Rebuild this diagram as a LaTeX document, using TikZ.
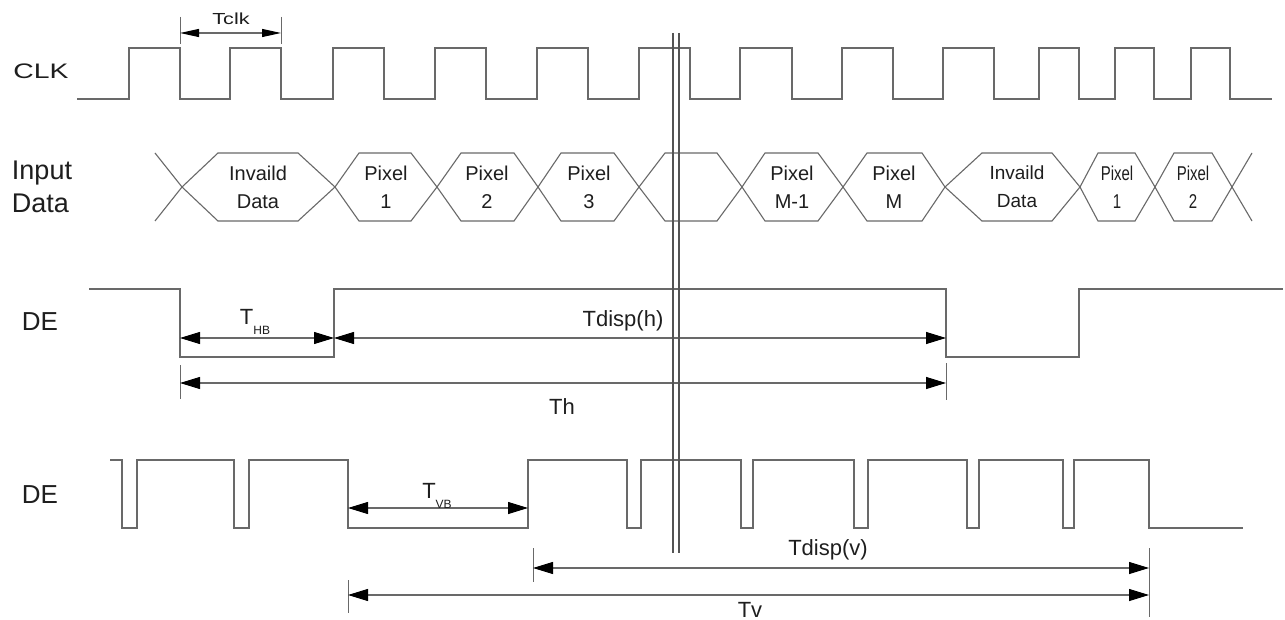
\documentclass[tikz,border=0pt]{standalone}
\usepackage{fontspec}
\setmainfont{Liberation Sans}
\newfontfamily\widefont{Liberation Sans}[FakeStretch=1.35]
\newfontfamily\narrowfont{Liberation Sans}[FakeStretch=0.75]
\usetikzlibrary{arrows.meta}
\definecolor{wavegray}{RGB}{105,105,105}
\definecolor{txtc}{RGB}{30,30,30}
\newcommand\hexa[4]{\draw[hexline] (#1,187) -- (#3,153) -- (#4,153) -- (#2,187) -- (#4,221) -- (#3,221) -- cycle;}
\newcommand\subtx[1]{\raisebox{-0.45em}{\fontsize{12}{12}\selectfont #1}}
\begin{document}
\begin{tikzpicture}[x=1pt,y=-1pt,
  wave/.style={draw=wavegray, line width=1.4pt, line join=miter},
  hexline/.style={draw=wavegray, line width=1.1pt, line join=miter},
  dline/.style={draw=wavegray!80!black, line width=1.3pt},
  tick/.style={draw=wavegray, line width=1pt},
  dim/.style={draw=wavegray, line width=1.1pt,
    {Triangle[length=20pt,width=12pt,color=black]}-{Triangle[length=20pt,width=12pt,color=black]}},
  dimc/.style={draw=wavegray, line width=1.1pt,
    {Triangle[length=19pt,width=8pt,color=black]}-{Triangle[length=19pt,width=8pt,color=black]}},
  lab/.style={font=\fontsize{26}{32}\selectfont, text=txtc, inner sep=0pt, align=left},
  hext/.style={font=\fontsize{20}{28}\selectfont, text=txtc, inner sep=0pt, align=center},
  dimt/.style={font=\fontsize{22}{24}\selectfont, text=txtc, inner sep=0pt}
]
\useasboundingbox[fill=white] (0,0) rectangle (1285,620);

% ---------- labels ----------
\node[lab, font=\widefont\fontsize{21}{24}\selectfont] (lclk) at (41,71) {CLK};
\node[lab, font=\fontsize{27}{33}\selectfont] (lin) at (42,187) {Input\\Data};
\node[lab] (lde1) at (40,322) {DE};
\node[lab] (lde2) at (40,495) {DE};

% ---------- CLK ----------
\draw[wave] (77,99) -- (129,99) -- (129,48) -- (180,48) -- (180,99)
  -- (230,99) -- (230,48) -- (281,48) -- (281,99)
  -- (333,99) -- (333,48) -- (384,48) -- (384,99)
  -- (435,99) -- (435,48) -- (486,48) -- (486,99)
  -- (537,99) -- (537,48) -- (588,48) -- (588,99)
  -- (639,99) -- (639,48) -- (690,48) -- (690,99)
  -- (740,99) -- (740,48) -- (792,48) -- (792,99)
  -- (842,99) -- (842,48) -- (893,48) -- (893,99)
  -- (943,99) -- (943,48) -- (994,48) -- (994,99)
  -- (1039,99) -- (1039,48) -- (1079,48) -- (1079,99)
  -- (1115,99) -- (1115,48) -- (1154,48) -- (1154,99)
  -- (1191,99) -- (1191,48) -- (1230,48) -- (1230,99) -- (1272,99);

% Tclk
\coordinate (tc1) at (180,33);
\coordinate (tc2) at (281,33);
\draw[tick] (180,17) -- (180,44);
\draw[tick] (281,17) -- (281,44);
\draw[dimc] (tc1) -- (tc2);
\node[dimt, font=\widefont\fontsize{16}{17}\selectfont] (ttclk) at (231,19) {Tclk};

% ---------- Input data ----------
\draw[hexline] (155,153) -- (182,187) -- (155,221);
\hexa{182}{335}{218}{298}
\hexa{335}{437}{359}{411}
\hexa{437}{538}{461}{514}
\hexa{538}{639}{561}{614}
\hexa{639}{742}{665}{717}
\hexa{742}{843}{765}{818}
\hexa{843}{945}{867}{922}
\hexa{945}{1080}{982}{1052}
\hexa{1080}{1155}{1098}{1135}
\hexa{1155}{1232}{1174}{1212}
\draw[hexline] (1252,153) -- (1232,187) -- (1252,221);

\node[hext] (h1) at (258,187) {Invaild\\Data};
\node[hext] (h2) at (386,187) {Pixel\\1};
\node[hext] (h3) at (487,187) {Pixel\\2};
\node[hext] (h4) at (589,187) {Pixel\\3};
\node[hext] (h6) at (792,187) {Pixel\\M-1};
\node[hext] (h7) at (894,187) {Pixel\\M};
\node[hext, font=\fontsize{19}{28}\selectfont] (h8) at (1017,187) {Invaild\\Data};
\node[hext, font=\narrowfont\fontsize{20}{28}\selectfont] (h9) at (1117,187) {Pixel\\1};
\node[hext, font=\narrowfont\fontsize{20}{28}\selectfont] (h10) at (1193,187) {Pixel\\2};

% ---------- DE (horizontal) ----------
\draw[wave] (89,289) -- (180,289) -- (180,357) -- (334,357) -- (334,289)
  -- (946,289) -- (946,357) -- (1079,357) -- (1079,289) -- (1283,289);
\coordinate (a1) at (180,338);
\coordinate (a2) at (334,338);
\coordinate (a3) at (946,338);
\coordinate (b1) at (180,383);
\coordinate (b2) at (946,383);
\draw[dim] (a1) -- (a2);
\draw[dim] (a2) -- (a3);
\draw[tick] (180,365) -- (180,399);
\draw[tick] (946,363) -- (946,400);
\draw[dim] (b1) -- (b2);
\node[dimt] (thb) at (255,322) {T\subtx{HB}};
\node[dimt] (tdh) at (623,321) {Tdisp(h)};
\node[dimt] (th) at (562,407) {Th};

% ---------- DE (vertical) ----------
\draw[wave] (110,460) -- (122,460) -- (122,528) -- (137,528) -- (137,460)
  -- (234,460) -- (234,528) -- (249,528) -- (249,460)
  -- (348,460) -- (348,528) -- (528,528) -- (528,460)
  -- (627,460) -- (627,528) -- (641,528) -- (641,460)
  -- (741,460) -- (741,528) -- (753,528) -- (753,460)
  -- (854,460) -- (854,528) -- (868,528) -- (868,460)
  -- (967,460) -- (967,528) -- (979,528) -- (979,460)
  -- (1063,460) -- (1063,528) -- (1074,528) -- (1074,460)
  -- (1149,460) -- (1149,528) -- (1243,528);
\coordinate (c1) at (348,508);
\coordinate (c2) at (528,508);
\coordinate (d1) at (533,568);
\coordinate (d2) at (1149,568);
\coordinate (e1) at (348,595);
\coordinate (e2) at (1149,595);
\draw[dim] (c1) -- (c2);
\draw[tick] (533,548) -- (533,582);
\draw[tick] (1149,548) -- (1149,617);
\draw[tick] (348,580) -- (348,613);
\draw[dim] (d1) -- (d2);
\draw[dim] (e1) -- (e2);
\node[dimt] (tvb) at (437,496) {T\subtx{VB}};
\node[dimt] (tdv) at (828,550) {Tdisp(v)};
\node[dimt] (tv) at (750,610) {Tv};

% ---------- double break line ----------
\draw[dline] (673,33) -- (673,553);
\draw[dline] (679,33) -- (679,553);
\end{tikzpicture}
\end{document}
